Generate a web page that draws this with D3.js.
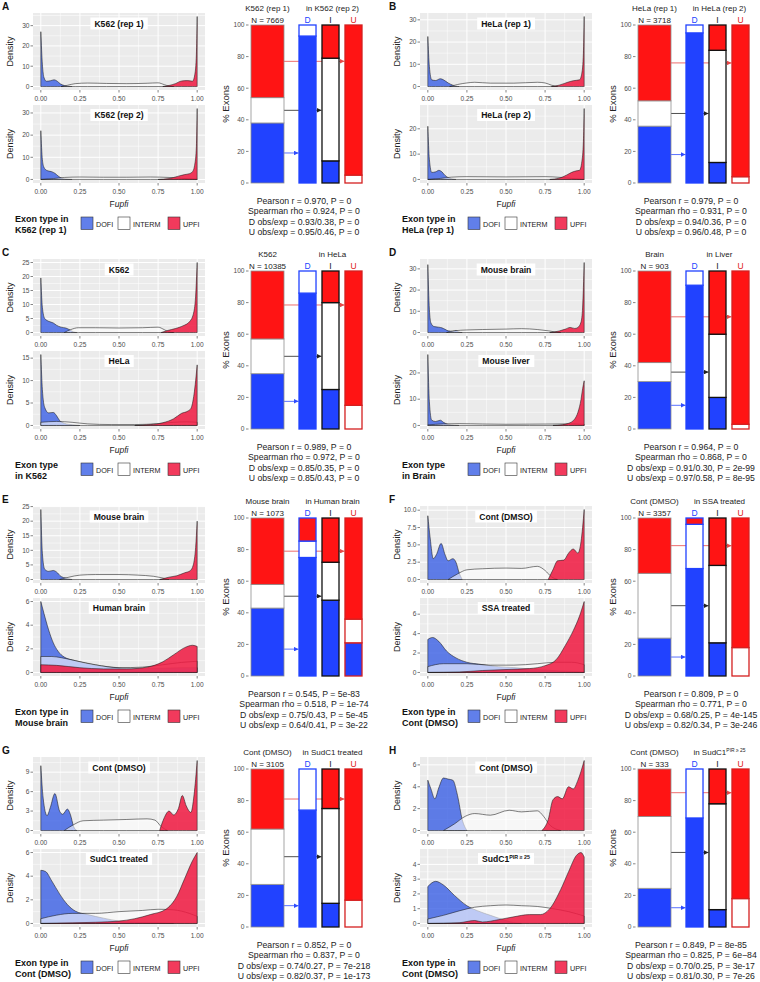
<!DOCTYPE html>
<html><head><meta charset="utf-8">
<script src="https://cdn.jsdelivr.net/npm/d3@7"></script>
<style>body{margin:0;background:#fff} svg{display:block} text{font-family:"Liberation Sans",Arial,Helvetica,sans-serif}</style>
</head><body><svg id="fig" width="760" height="982"></svg>
<script>
// ---------------- DATA ----------------
const panelIds = ["A","B","C","D","E","F","G","H"];
const topTitles = ["K562 (rep 1)","HeLa (rep 1)","K562","Mouse brain","Mouse brain","Cont (DMSO)","Cont (DMSO)","Cont (DMSO)"];
const bottomTitles = ["K562 (rep 2)","HeLa (rep 2)","HeLa","Mouse liver","Human brain","SSA treated","SudC1 treated","SudC1^PIR ≥ 25"];
const legendTitles = [["Exon type in","K562 (rep 1)"],["Exon type in","HeLa (rep 1)"],["Exon type","in K562"],["Exon type","in Brain"],
  ["Exon type in","Mouse brain"],["Exon type in","Cont (DMSO)"],["Exon type in","Cont (DMSO)"],["Exon type in","Cont (DMSO)"]];
const sourceLabels = ["K562 (rep 1)","HeLa (rep 1)","K562","Brain","Mouse brain","Cont (DMSO)","Cont (DMSO)","Cont (DMSO)"];
const targetLabels = ["in K562 (rep 2)","in HeLa (rep 2)","in HeLa","in Liver","in Human brain","in SSA treated","in SudC1 treated","in SudC1^PIR ≥ 25"];
const nValues = [7669, 3718, 10385, 903, 1073, 3357, 3105, 333];
const xTicks = ["0.00","0.25","0.50","0.75","1.00"];
const topTicks = [["0","10","20","30"],["0","10","20","30"],["0","5","10","15","20","25"],["0","10","20","30"],
  ["0","5","10","15","20","25"],["0.0","2.5","5.0","7.5","10.0"],["0","3","6","9"],["0","2","4","6"]];
const bottomTicks = [["0","10","20","30"],["0","10","20"],["0","5","10","15"],["0","10","20"],
  ["0","2","4","6"],["0","2","4","6"],["0","2","4","6"],["0","1","2","3","4"]];
const barTicks = ["0","20","40","60","80","100"];
// stacked bars: [top of blue, top of white]; red fills the rest up to 100 (%)
const sourceBars = [[38,54],[36,52],[35,57],[30,42],[43,58],[24,65],[27,62],[24.5,70]];
const dBars = [[93,100],[95,100],[86,100],[91,100],[75,85.4],[68,96],[74,100],[69,100]];
const iBars = [[14,79],[13,84],[25,80],[20,60],[48,72],[21,70],[15,75],[11,78]];
const uBars = [[0,5],[0,4],[0,15],[0,3],[21,36],[0,18],[0,17],[0,18]];
// arrow levels (blue, black, red) in % Exons
const arrowLevels = [[19,46,77],[18,44,76],[17.5,46,78.5],[15,36,71],[17,50.5,79],[12,44.5,82.5],[13.5,44.5,81],[12.2,47.2,85]];
const statLines = [
 ["Pearson r = 0.970, P = 0","Spearman rho = 0.924, P = 0","D obs/exp = 0.93/0.38, P = 0","U obs/exp = 0.95/0.46, P = 0"],
 ["Pearson r = 0.979, P = 0","Spearman rho = 0.931, P = 0","D obs/exp = 0.94/0.36, P = 0","U obs/exp = 0.96/0.48, P = 0"],
 ["Pearson r = 0.989, P = 0","Spearman rho = 0.972, P = 0","D obs/exp = 0.85/0.35, P = 0","U obs/exp = 0.85/0.43, P = 0"],
 ["Pearson r = 0.964, P = 0","Spearman rho = 0.868, P = 0","D obs/exp = 0.91/0.30, P = 2e-99","U obs/exp = 0.97/0.58, P = 8e-95"],
 ["Pearson r = 0.545, P = 5e-83","Spearman rho = 0.518, P = 1e-74","D obs/exp = 0.75/0.43, P = 5e-45","U obs/exp = 0.64/0.41, P = 3e-22"],
 ["Pearson r = 0.809, P = 0","Spearman rho = 0.771, P = 0","D obs/exp = 0.68/0.25, P = 4e-145","U obs/exp = 0.82/0.34, P = 3e-246"],
 ["Pearson r = 0.852, P = 0","Spearman rho = 0.837, P = 0","D obs/exp = 0.74/0.27, P = 7e-218","U obs/exp = 0.82/0.37, P = 1e-173"],
 ["Pearson r = 0.849, P = 8e-85","Spearman rho = 0.825, P = 6e\u221284","D obs/exp = 0.70/0.25, P = 3e-17","U obs/exp = 0.81/0.30, P = 7e-26"]
];
const legendItems = ["DOFI","INTERM","UPFI"];

// density curves, [Fupfi, density]
const dA1 = {DOFI:[[0,27],[0.01,11],[0.02,4.5],[0.035,2.6],[0.06,2.8],[0.085,3.3],[0.105,2.6],[0.125,1.3],[0.15,0.5],[0.18,0.15],[0.2,0]],
 INTERM:[[0.13,0],[0.17,0.6],[0.22,1.4],[0.3,1.7],[0.42,1.5],[0.55,1.4],[0.68,1.6],[0.75,1.8],[0.79,0.9],[0.82,0.2],[0.85,0]],
 UPFI:[[0.78,0],[0.82,0.5],[0.86,1.4],[0.9,2.7],[0.94,2.9],[0.97,2.6],[0.985,6],[0.995,16],[1,34.5]]};
const dA2 = {DOFI:[[0,22],[0.01,9],[0.02,5.5],[0.04,4],[0.07,3.5],[0.09,2.8],[0.11,1.6],[0.13,0.7],[0.16,0.2],[0.2,0]],
 INTERM:[[0,0],[0.08,0.4],[0.15,0.9],[0.25,1.1],[0.4,1],[0.55,1],[0.7,1.1],[0.82,0.9],[0.9,0.5],[1,0.1]],
 UPFI:[[0.75,0],[0.82,0.4],[0.88,1.5],[0.92,2.2],[0.95,2.6],[0.97,3.5],[0.985,7],[0.995,15],[1,32]]};
const dB1 = {DOFI:[[0,22.5],[0.01,9],[0.025,3],[0.05,2.7],[0.08,3.5],[0.1,3],[0.13,1.6],[0.16,0.6],[0.2,0]],
 INTERM:[[0.14,0],[0.19,0.9],[0.25,1.6],[0.3,1.9],[0.4,1.5],[0.55,1.5],[0.7,1.9],[0.75,1.6],[0.79,0.6],[0.83,0]],
 UPFI:[[0.79,0],[0.84,0.6],[0.89,1.8],[0.93,2.6],[0.97,3],[0.985,6],[0.995,15],[1,31.5]]};
const dB2 = {DOFI:[[0,21],[0.01,8],[0.025,2.8],[0.05,3],[0.07,3.6],[0.09,3],[0.11,1.6],[0.14,0.5],[0.18,0]],
 INTERM:[[0,0],[0.08,0.4],[0.15,0.9],[0.25,1.1],[0.5,1],[0.75,1.1],[0.85,0.8],[0.92,0.4],[1,0]],
 UPFI:[[0.78,0],[0.84,0.5],[0.89,1.8],[0.92,2.8],[0.95,3.4],[0.97,3.6],[0.985,7],[0.995,15],[1,28]]};
const dC1 = {DOFI:[[0,19.5],[0.01,9],[0.025,5],[0.05,4],[0.08,3.4],[0.1,2.6],[0.13,1.9],[0.16,1.6],[0.19,0.8],[0.21,0.2],[0.23,0]],
 INTERM:[[0.15,0],[0.19,1],[0.24,1.7],[0.35,1.7],[0.5,1.6],[0.65,1.7],[0.75,1.9],[0.79,1],[0.82,0.2],[0.85,0]],
 UPFI:[[0.77,0],[0.81,0.7],[0.86,1.4],[0.91,2.4],[0.95,3.8],[0.975,6.5],[0.99,13],[1,25]]};
const dC2 = {DOFI:[[0,15.8],[0.01,8],[0.025,4],[0.05,2.8],[0.08,2.9],[0.1,2.2],[0.12,1.1],[0.15,0.5],[0.2,0.15],[0.25,0]],
 INTERM:[[0,0.7],[0.1,0.9],[0.2,0.7],[0.3,0.35],[0.45,0.2],[0.6,0.2],[0.75,0.4],[0.85,0.7],[0.93,0.8],[1,0.7]],
 UPFI:[[0.6,0],[0.7,0.2],[0.78,0.6],[0.85,1.5],[0.9,2.7],[0.94,3.2],[0.96,3.8],[0.98,7],[1,13.5]]};
const dD1 = {DOFI:[[0,32],[0.01,11],[0.02,4.5],[0.04,2.8],[0.07,2.5],[0.09,2.2],[0.11,1.5],[0.13,0.8],[0.16,0.6],[0.18,1],[0.2,0.2],[0.22,0]],
 INTERM:[[0.12,0],[0.17,0.8],[0.25,1.2],[0.35,1.4],[0.5,1.6],[0.6,1.8],[0.7,1.4],[0.77,0.8],[0.82,0.2],[0.85,0]],
 UPFI:[[0.78,0],[0.84,0.7],[0.88,1.6],[0.91,2.4],[0.94,1.9],[0.96,2.4],[0.98,5],[0.99,12],[1,33]]};
const dD2 = {DOFI:[[0,27],[0.01,9],[0.025,2],[0.05,1.5],[0.08,2],[0.1,1.2],[0.13,0.4],[0.17,0.1],[0.2,0]],
 INTERM:[[0,0.2],[0.1,0.6],[0.2,0.7],[0.35,0.55],[0.5,0.45],[0.65,0.5],[0.8,0.55],[0.9,0.6],[1,0.4]],
 UPFI:[[0.8,0],[0.86,0.3],[0.9,0.8],[0.94,2.5],[0.96,5],[0.98,10],[0.99,14],[1,17]]};
const dE1 = {DOFI:[[0,24],[0.01,9],[0.025,3.5],[0.05,2.8],[0.08,3.1],[0.1,2.6],[0.13,1],[0.16,0.5],[0.2,0]],
 INTERM:[[0.12,0],[0.18,0.8],[0.25,1.5],[0.35,1.7],[0.5,1.7],[0.62,1.5],[0.72,1.1],[0.78,0.5],[0.82,0]],
 UPFI:[[0.76,0],[0.82,0.8],[0.87,1.3],[0.92,2.3],[0.955,3],[0.975,5],[0.99,11],[1,20]]};
const dE2 = {DOFI:[[0,6],[0.02,5],[0.05,3.6],[0.08,2.5],[0.11,1.8],[0.15,1.3],[0.22,1],[0.32,0.7],[0.45,0.45],[0.6,0.35],[0.75,0.35],[0.9,0.4],[1,0.4]],
 INTERM:[[0,1.35],[0.07,1.35],[0.13,1.25],[0.22,1],[0.35,0.65],[0.5,0.4],[0.65,0.45],[0.78,0.65],[0.9,0.85],[1,0.95]],
 UPFI:[[0,0.65],[0.1,0.6],[0.25,0.4],[0.4,0.3],[0.55,0.3],[0.68,0.45],[0.78,0.9],[0.85,1.5],[0.92,2.1],[0.97,2.3],[1,2.2]]};
const dF1 = {DOFI:[[0,9.2],[0.015,6],[0.035,3],[0.055,3.6],[0.085,5.2],[0.11,3.6],[0.13,2.7],[0.16,3],[0.18,2.5],[0.2,1],[0.22,0]],
 INTERM:[[0.13,0],[0.19,0.8],[0.25,1.4],[0.35,1.55],[0.5,1.65],[0.6,1.6],[0.7,1.9],[0.75,1.3],[0.79,0.4],[0.83,0]],
 UPFI:[[0.77,0],[0.8,1.4],[0.83,2.7],[0.87,2.8],[0.9,3.8],[0.93,4.4],[0.96,3.8],[0.98,5.5],[1,10.1]]};
const dF2 = {DOFI:[[0,3.4],[0.03,3.6],[0.07,3.2],[0.12,2.2],[0.18,1.5],[0.25,1.05],[0.33,0.85],[0.45,0.6],[0.55,0.5],[0.7,0.3],[0.85,0.15],[1,0.05]],
 INTERM:[[0,0.6],[0.1,0.9],[0.25,0.9],[0.4,0.75],[0.55,0.75],[0.7,0.9],[0.82,1.05],[0.92,1.05],[1,0.8]],
 UPFI:[[0,0],[0.2,0.05],[0.35,0.2],[0.5,0.3],[0.65,0.4],[0.75,0.7],[0.82,1.3],[0.88,2.8],[0.93,4.3],[0.97,5.8],[1,7.3]]};
const dG1 = {DOFI:[[0,10],[0.015,5],[0.04,2.3],[0.06,3.5],[0.09,5.7],[0.12,3],[0.14,2.5],[0.17,3.3],[0.19,2.4],[0.21,0.6],[0.23,0]],
 INTERM:[[0.15,0],[0.21,0.9],[0.27,1.5],[0.4,1.6],[0.55,1.7],[0.68,1.8],[0.73,1.6],[0.77,0.6],[0.81,0]],
 UPFI:[[0.76,0],[0.79,2],[0.82,3],[0.85,2.4],[0.88,3.4],[0.905,5.4],[0.93,3.8],[0.96,2.8],[0.98,5.5],[1,10.8]]};
const dG2 = {DOFI:[[0,4.5],[0.03,4.4],[0.07,3.6],[0.12,2.5],[0.17,1.6],[0.22,1.05],[0.3,0.75],[0.4,0.45],[0.5,0.2],[0.6,0.1],[0.75,0.05],[0.85,0]],
 INTERM:[[0,0.4],[0.1,0.7],[0.2,0.85],[0.35,0.85],[0.5,1],[0.65,1.1],[0.75,1.2],[0.85,1.15],[0.95,0.85],[1,0.6]],
 UPFI:[[0,0],[0.2,0.05],[0.35,0.1],[0.5,0.2],[0.6,0.4],[0.7,0.75],[0.8,1.2],[0.87,2.3],[0.92,3.8],[0.97,5.3],[1,6]]};
const dH1 = {DOFI:[[0,4.6],[0.02,3.8],[0.045,2.9],[0.07,3.9],[0.1,4.8],[0.13,4.7],[0.16,4.6],[0.19,3.2],[0.22,1],[0.25,0]],
 INTERM:[[0.1,0],[0.17,0.6],[0.24,1.3],[0.3,1.55],[0.4,1.4],[0.52,1.85],[0.6,1.7],[0.7,1.8],[0.74,1.3],[0.78,0.5],[0.85,0]],
 UPFI:[[0.73,0],[0.77,1],[0.8,2.8],[0.83,3.1],[0.86,2.9],[0.9,4],[0.93,3.8],[0.96,4.6],[1,6.4]]};
const dH2 = {DOFI:[[0,2.5],[0.05,2.85],[0.1,2.6],[0.17,1.9],[0.25,1.2],[0.32,0.85],[0.4,0.55],[0.5,0.2],[0.55,0.05],[0.6,0]],
 INTERM:[[0,0.3],[0.1,0.55],[0.2,0.85],[0.3,1.1],[0.4,1.2],[0.5,1.25],[0.6,1.2],[0.7,1.15],[0.8,1],[0.9,0.8],[1,0.5]],
 UPFI:[[0,0],[0.2,0.05],[0.3,0.2],[0.35,0.1],[0.45,0.25],[0.55,0.45],[0.65,0.6],[0.72,0.6],[0.78,1],[0.85,2.3],[0.9,3.5],[0.95,4.6],[0.98,4.8],[1,4.5]]};
const densTop = [dA1,dB1,dC1,dD1,dE1,dF1,dG1,dH1];
const densBottom = [dA2,dB2,dC2,dD2,dE2,dF2,dG2,dH2];

// ---------------- STYLE / LAYOUT ----------------
const colX = [0, 387], rowY = [0, 246, 493, 744];
const densFill = {DOFI:"#3a5fe5", INTERM:"#ffffff", UPFI:"#f0173f"};
const densAlpha = {DOFI:0.8, INTERM:0.6, UPFI:0.85};
const BLUE = "#2142ff", RED = "#ff1414";
const tickCol = "#4d4d4d";

const svg = d3.select("#fig");
const defs = svg.append("defs");
[["blue","#2f4cff"],["black","#222"],["red","#e84848"]].forEach(([id,c]) => {
  defs.append("marker").attr("id","arr-"+id).attr("viewBox","0 0 10 10").attr("refX",10).attr("refY",5)
    .attr("markerWidth",4.5).attr("markerHeight",4.5).attr("markerUnits","userSpaceOnUse").attr("orient","auto")
    .append("path").attr("d","M0,0L10,5L0,10z").attr("fill",c);
});

function richText(t, label) {
  const parts = label.split("^");
  t.append("tspan").text(parts[0]);
  if (parts[1]) t.append("tspan").attr("dy",-3).attr("font-size","62%").text(parts[1]);
}

let clipN = 0;
function densityPlot(g, curves, ticks, title, top, bottom) {
  const x = d3.scaleLinear().domain([-0.05,1.05]).range([33,205]);
  const ymax = d3.max(Object.values(curves).flat(), d => d[1]);
  const y = d3.scaleLinear().domain([-0.05*ymax, 1.05*ymax]).range([bottom, top]);
  g.append("rect").attr("x",33).attr("y",top).attr("width",172).attr("height",bottom-top).attr("fill","#ebebeb");
  const tv = ticks.map(Number);
  const step = tv[1]-tv[0];
  const yMinor = [tv[0]-step/2, ...tv.map(v => v+step/2)].filter(v => v > y.domain()[0] && v < y.domain()[1]);
  const xv = xTicks.map(Number);
  const xMinor = xv.slice(0,-1).map(v => v+0.125);
  g.selectAll(null).data(yMinor).join("line").attr("x1",33).attr("x2",205).attr("y1",d=>y(d)).attr("y2",d=>y(d)).attr("stroke","#fff").attr("stroke-width",0.5);
  g.selectAll(null).data(xMinor).join("line").attr("y1",top).attr("y2",bottom).attr("x1",d=>x(d)).attr("x2",d=>x(d)).attr("stroke","#fff").attr("stroke-width",0.5);
  g.selectAll(null).data(tv).join("line").attr("x1",33).attr("x2",205).attr("y1",d=>y(d)).attr("y2",d=>y(d)).attr("stroke","#fff").attr("stroke-width",1);
  g.selectAll(null).data(xv).join("line").attr("y1",top).attr("y2",bottom).attr("x1",d=>x(d)).attr("x2",d=>x(d)).attr("stroke","#fff").attr("stroke-width",1);
  const cid = "clip" + (clipN++);
  g.append("clipPath").attr("id",cid).append("rect").attr("x",33).attr("y",top).attr("width",172).attr("height",bottom-top);
  const cg = g.append("g").attr("clip-path",`url(#${cid})`);
  const area = d3.area().x(d=>x(d[0])).y0(y(0)).y1(d=>y(d[1])).curve(d3.curveMonotoneX);
  legendItems.forEach(k => {
    cg.append("path").attr("d", area(curves[k])).attr("fill", densFill[k]).attr("fill-opacity", densAlpha[k])
      .attr("stroke","#1a1a1a").attr("stroke-width",0.55).attr("stroke-linejoin","round");
  });
  // axes
  g.selectAll(null).data(tv).join("line").attr("x1",30.5).attr("x2",33).attr("y1",d=>y(d)).attr("y2",d=>y(d)).attr("stroke","#333").attr("stroke-width",0.6);
  g.selectAll(null).data(ticks).join("text").attr("x",29.5).attr("y",d=>y(+d)+2.3).attr("text-anchor","end")
    .attr("font-size",6.6).attr("fill",tickCol).text(d=>d);
  g.selectAll(null).data(xv).join("line").attr("y1",bottom).attr("y2",bottom+2.5).attr("x1",d=>x(d)).attr("x2",d=>x(d)).attr("stroke","#333").attr("stroke-width",0.6);
  g.selectAll(null).data(xTicks).join("text").attr("x",d=>x(+d)).attr("y",bottom+11).attr("text-anchor","middle")
    .attr("font-size",6.6).attr("fill",tickCol).text(d=>d);
  g.append("text").attr("transform",`translate(12.5,${(top+bottom)/2}) rotate(-90)`).attr("text-anchor","middle")
    .attr("font-size",9).attr("fill","#222").text("Density");
  // title box
  const cx = (33+205)/2, cy = top + (top < 50 ? 10.5 : 10);
  const t = g.append("text").attr("x",cx).attr("y",cy+3.2).attr("text-anchor","middle").attr("font-weight","bold").attr("font-size",8.6).attr("fill","#111");
  richText(t, title);
  const bb = t.node().getBBox();
  g.insert("rect", () => t.node()).attr("x",bb.x-4).attr("y",cy-6).attr("width",bb.width+8).attr("height",12).attr("fill","#fff");
}

function barChart(g, i) {
  const y = d3.scaleLinear().domain([0,100]).range([183,25]);
  const tb = d3.scaleBand().domain(["D","I","U"]).range([299,362]).paddingInner(0.26);
  const srcX = 251, srcW = 33;
  g.selectAll(null).data(barTicks).join("text").attr("x",244.5).attr("y",d=>y(+d)+2.3).attr("text-anchor","end")
    .attr("font-size",6.6).attr("fill",tickCol).text(d=>d);
  g.selectAll(null).data(barTicks).join("line").attr("x1",246).attr("x2",248.5).attr("y1",d=>y(+d)).attr("y2",d=>y(+d)).attr("stroke","#333").attr("stroke-width",0.6);
  g.append("text").attr("transform",`translate(229,104) rotate(-90)`).attr("text-anchor","middle")
    .attr("font-size",9.5).attr("fill","#222").text("% Exons");
  // arrows
  const arrCols = [["#2f4cff","blue","D"],["#222","black","I"],["#e84848","red","U"]];
  arrowLevels[i].forEach((lv, k) => {
    g.append("line").attr("x1",srcX+srcW).attr("x2",tb(arrCols[k][2])-0.5).attr("y1",y(lv)).attr("y2",y(lv))
      .attr("stroke",arrCols[k][0]).attr("stroke-width",0.8).attr("marker-end",`url(#arr-${arrCols[k][1]})`);
  });
  const bars = [
    {x:srcX, w:srcW, seg:sourceBars[i], stroke:"#8f8f8f", sw:0.8},
    {x:tb("D"), w:tb.bandwidth(), seg:dBars[i], stroke:BLUE, sw:1.3},
    {x:tb("I"), w:tb.bandwidth(), seg:iBars[i], stroke:"#111", sw:1.3},
    {x:tb("U"), w:tb.bandwidth(), seg:uBars[i], stroke:"#d42020", sw:1.3}
  ];
  bars.forEach(b => {
    const segs = [[0,b.seg[0],BLUE],[b.seg[0],b.seg[1],"#fff"],[b.seg[1],100,RED]].filter(s => s[1]-s[0] > 0.01);
    segs.forEach(s => {
      g.append("rect").attr("x",b.x).attr("y",y(s[1])).attr("width",b.w).attr("height",y(s[0])-y(s[1]))
        .attr("fill",s[2]).attr("stroke",b.stroke).attr("stroke-width",b.sw);
    });
  });
  // headers
  g.append("text").attr("x",srcX+srcW/2).attr("y",11).attr("text-anchor","middle").attr("font-size",8).attr("fill","#222").text(sourceLabels[i]);
  const tt = g.append("text").attr("x",(tb("D")+tb("U")+tb.bandwidth())/2+2).attr("y",11).attr("text-anchor","middle").attr("font-size",8).attr("fill","#222");
  richText(tt, targetLabels[i]);
  g.append("text").attr("x",srcX+srcW/2).attr("y",23).attr("text-anchor","middle").attr("font-size",8).attr("fill","#222").text("N = " + nValues[i]);
  [["D",BLUE],["I","#111"],["U","#e02020"]].forEach(([k,c]) => {
    g.append("text").attr("x",tb(k)+tb.bandwidth()/2).attr("y",23).attr("text-anchor","middle").attr("font-size",8.5).attr("fill",c).text(k);
  });
  // stats
  statLines[i].forEach((s, k) => {
    g.append("text").attr("x",304).attr("y",203.5 + k*10.6).attr("text-anchor","middle").attr("font-size",8.7).attr("fill","#222").text(s);
  });
}

function legend(g, i) {
  legendTitles[i].forEach((s,k) => g.append("text").attr("x",15).attr("y",221.5+k*11.5).attr("font-weight","bold").attr("font-size",9).attr("fill","#111").text(s));
  const keyX = [81,118,168];
  legendItems.forEach((k, j) => {
    g.append("rect").attr("x",keyX[j]).attr("y",217).attr("width",12).attr("height",12.5).attr("fill",densFill[k]).attr("fill-opacity",densAlpha[k])
      .attr("stroke","#333").attr("stroke-width",0.6);
    g.append("text").attr("x",keyX[j]+15).attr("y",226.5).attr("font-size",7.2).attr("fill","#222").text(k);
  });
}

panelIds.forEach((id, i) => {
  const g = svg.append("g").attr("transform",`translate(${colX[i%2]},${rowY[Math.floor(i/2)]})`);
  g.append("text").attr("x",2).attr("y",10).attr("font-weight","bold").attr("font-size",10).attr("fill","#111").text(id);
  densityPlot(g, densTop[i], topTicks[i], topTitles[i], 13, 90);
  densityPlot(g, densBottom[i], bottomTicks[i], bottomTitles[i], 105, 183);
  const xt = g.append("text").attr("x",119).attr("y",207).attr("text-anchor","middle").attr("font-size",8.5).attr("fill","#222");
  xt.append("tspan").text("F");
  xt.append("tspan").attr("font-style","italic").text("upfi");
  legend(g, i);
  barChart(g, i);
});
</script></body></html>
